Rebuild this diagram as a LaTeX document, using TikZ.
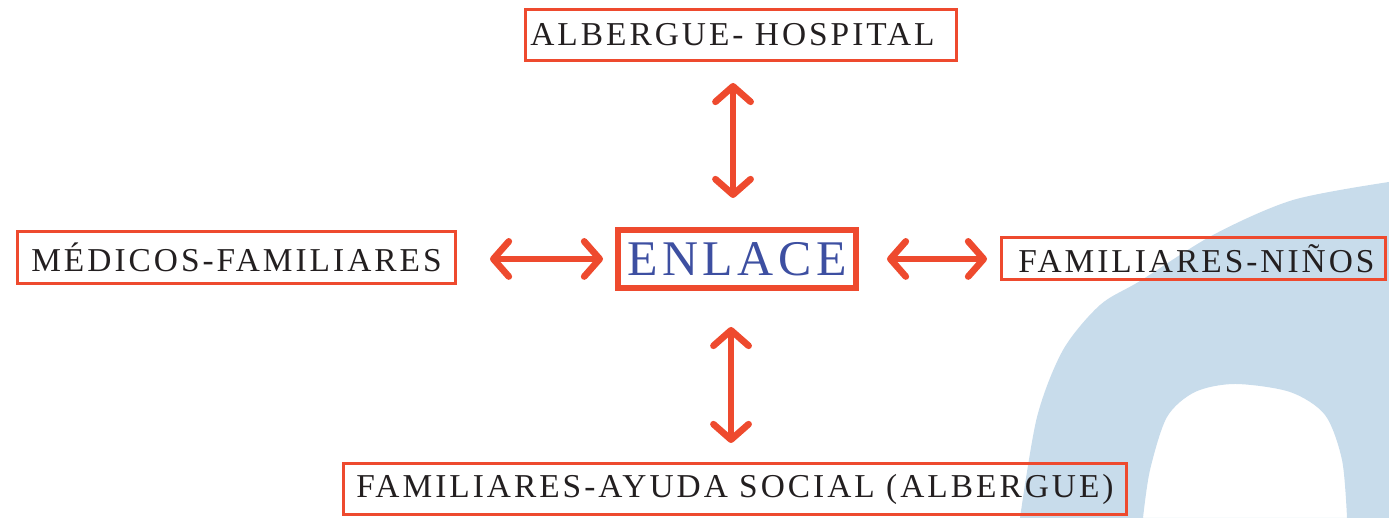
\documentclass[tikz,border=0pt]{standalone}
\usepackage{fontspec}
\setmainfont{Liberation Serif}
\newfontfamily\rotulofont[LetterSpace=9]{Liberation Serif}
\usetikzlibrary{arrows.meta}
\definecolor{rojo}{HTML}{EE4A2E}
\definecolor{azulenlace}{HTML}{3D4FA1}
\definecolor{celeste}{HTML}{C8DCEB}
\definecolor{tinta}{HTML}{231F20}

\begin{document}
\begin{tikzpicture}[
    caja/.style={draw=rojo, line width=0.85pt, inner sep=0pt, text=tinta,
                 font=\rotulofont\fontsize{9.5}{11}\selectfont},
    centro/.style={draw=rojo, line width=1.7pt, inner sep=0pt, text=azulenlace,
                   font=\rotulofont\fontsize{14.2}{16}\selectfont},
    enlace/.style={rojo, line width=1.9pt, line cap=round,
                   {Straight Barb[length=4.4pt, width=10pt, round]}-{Straight Barb[length=4.4pt, width=10pt, round]}},
]
\useasboundingbox (0,0) rectangle (13.89,5.18);

% Background: light blue arc in the lower right corner
\fill[celeste] plot[smooth] coordinates {(10.20,0) (10.37,1.01) (10.63,1.68) (11.00,2.13)
    (11.40,2.37) (12.13,2.83) (12.93,3.18) (13.89,3.36)}
  -- (13.89,0) -- (13.47,0)
  plot[smooth] coordinates {(13.47,0) (13.42,0.58) (13.25,1.03) (12.90,1.26) (12.35,1.34)
    (11.95,1.26) (11.67,1.01) (11.50,0.48) (11.43,0)} -- cycle;

% Centre node
\node[centro, minimum width=2.38cm, minimum height=0.58cm] (enlace) at (7.37,2.59) {ENLACE};

% Surrounding boxes
\node[caja, minimum width=4.31cm, minimum height=0.51cm] (hospital) at (7.41,4.83) {ALBERGUE- HOSPITAL\kern1.7mm};
\node[caja, minimum width=4.38cm, minimum height=0.52cm] (medicos) at (2.365,2.605) {MÉDICOS-FAMILIARES};
\node[caja, minimum width=3.84cm, minimum height=0.42cm] (ninos) at (11.935,2.595) {\hspace{0.6mm}FAMILIARES-NIÑOS};
\node[caja, minimum width=7.83cm, minimum height=0.51cm] (social) at (7.35,0.29) {FAMILIARES-AYUDA SOCIAL (ALBERGUE)};

% Links
\draw[enlace, shorten <=0.29cm, shorten >=0.21cm] ([xshift=-0.04cm]enlace.north) -- ([xshift=-0.04cm]enlace.north |- hospital.south);
\draw[enlace, shorten <=0.36cm, shorten >=0.19cm] ([xshift=-0.06cm]enlace.south) -- ([xshift=-0.06cm]enlace.south |- social.north);
\draw[enlace, shorten <=0.12cm, shorten >=0.33cm] (enlace.west) -- (enlace.west -| medicos.east);
\draw[enlace, shorten <=0.28cm, shorten >=0.13cm] (enlace.east) -- (enlace.east -| ninos.west);

\end{tikzpicture}
\end{document}
